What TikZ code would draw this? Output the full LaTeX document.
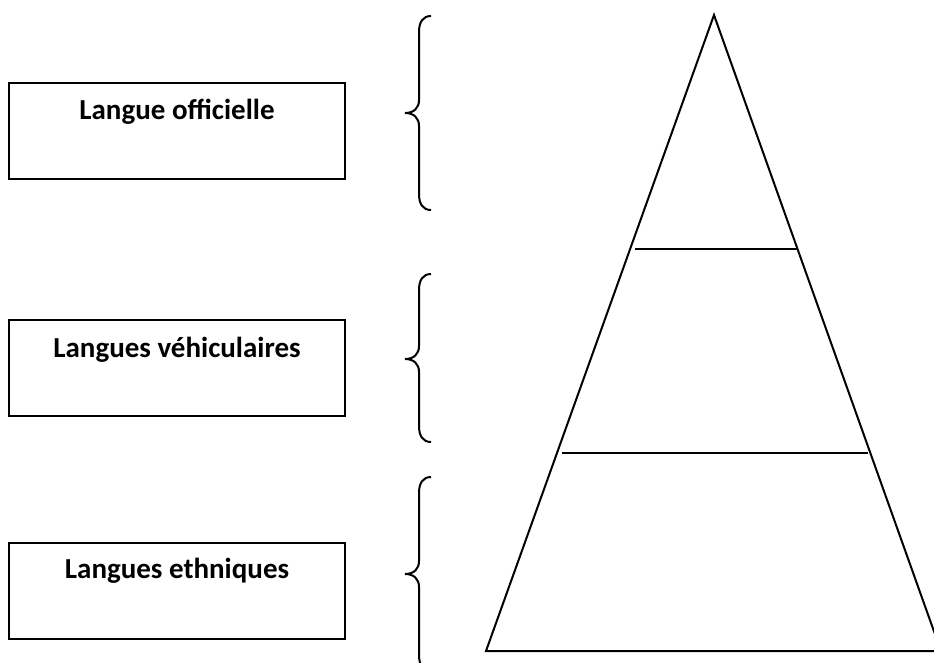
\documentclass[tikz,border=0pt]{standalone}
\usepackage{fontspec}
\setmainfont{Carlito}
\begin{document}
\begin{tikzpicture}[x=1pt,y=-1pt,
  box/.style={draw,line width=2pt,minimum width=336pt,minimum height=96pt,inner sep=0pt},
  lbl/.style={font=\fontsize{29}{34}\selectfont\bfseries,inner sep=0pt},
  brc/.style={line width=2pt},
  tri/.style={line width=2pt,line join=miter}]
\useasboundingbox (0,0) rectangle (934,662);
\clip (0,0) rectangle (934,662);
% boxes
\node[box] (b1) at (177,131) {};
\node[box] (b2) at (177,367.5) {};
\node[box] (b3) at (177,591) {};
\node[lbl] (t1) at ([yshift=-30pt]b1.north) {Langue officielle};
\node[lbl] (t2) at ([yshift=-31pt]b2.north) {Langues véhiculaires};
\node[lbl] (t3) at ([yshift=-29pt]b3.north) {Langues ethniques};
% braces
\draw[brc] (431,16) .. controls (423,16) and (419,22) .. (419,32) -- (419,100)
  .. controls (419,108) and (414,113) .. (405,113)
  .. controls (414,113) and (419,118) .. (419,126) -- (419,194)
  .. controls (419,204) and (423,210) .. (431,210);
\draw[brc] (431,274) .. controls (423,274) and (419,280) .. (419,290) -- (419,346)
  .. controls (419,354) and (414,359) .. (405,359)
  .. controls (414,359) and (419,364) .. (419,372) -- (419,426)
  .. controls (419,436) and (423,442) .. (431,442);
\draw[brc] (431,477) .. controls (423,477) and (419,483) .. (419,493) -- (419,561)
  .. controls (419,569) and (414,574) .. (405,574)
  .. controls (414,574) and (419,579) .. (419,587) -- (419,655)
  .. controls (419,665) and (423,671) .. (431,671);
% pyramid
\coordinate (apex) at (714,15);
\coordinate (bl) at (486,651);
\coordinate (br) at (941,651);
\draw[tri] (bl) -- (apex) -- (br) -- cycle;
\coordinate (l1a) at (635,249);
\coordinate (l1b) at (798,249);
\coordinate (l2a) at (562,453);
\coordinate (l2b) at (868,453);
\draw[tri] (l1a) -- (l1b);
\draw[tri] (l2a) -- (l2b);
\end{tikzpicture}
\end{document}
